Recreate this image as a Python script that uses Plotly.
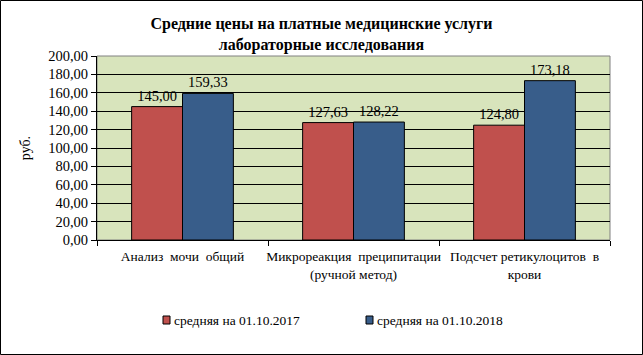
import plotly.graph_objects as go

categories = ["Анализ  мочи  общий", "Микрореакция  преципитации<br>(ручной метод)", "Подсчет ретикулоцитов  в<br>крови"]
s2017 = [145.00, 127.63, 124.80]
s2018 = [159.33, 128.22, 173.18]
names = ["средняя на 01.10.2017", "средняя на 01.10.2018"]
colors = ["#C0504D", "#385D8A"]

def fmt(v):
    return f"{v:.2f}".replace(".", ",")

W, H = 643, 355
L, R, T, B = 97, 33, 56, 115
pw, ph = W - L - R, H - T - B

font = "'Liberation Serif', 'Times New Roman', serif"

fig = go.Figure()
for vals, nm, col in zip([s2017, s2018], names, colors):
    fig.add_bar(x=categories, y=vals, name=nm, marker=dict(color=col, line=dict(color="black", width=1)),
                text=[fmt(v) for v in vals], textposition="outside", cliponaxis=False,
                textfont=dict(size=14.5, color="black", family=font), showlegend=False)

fig.update_layout(
    width=W, height=H, margin=dict(l=L, r=R, t=T, b=B, autoexpand=False),
    paper_bgcolor="white", plot_bgcolor="#D8E4BC",
    separators=", ",
    font=dict(family=font, size=13, color="black"),
    title=dict(text="<b>Средние цены на платные медицинские услуги<br>лабораторные исследования</b>",
               x=0.5, xref="container", xanchor="center", y=1 - 29 / H, yanchor="middle",
               font=dict(size=16, family=font)),
    bargap=0.405, bargroupgap=0,
    showlegend=False,
)
fig.update_yaxes(range=[0, 200], dtick=20, tickformat=".2f", showgrid=True, gridcolor="black", gridwidth=1,
                 showline=True, linecolor="black", ticks="outside", ticklen=5, tickcolor="black",
                 tickfont=dict(size=14.5, family=font),
                 title=dict(text="руб.", font=dict(size=14, family=font), standoff=14), zeroline=False)
fig.update_xaxes(showline=True, linecolor="black", ticks="outside", tickson="boundaries", ticklen=5,
                 tickcolor="black", tickangle=0, ticklabelstandoff=4, tickfont=dict(size=13.5, family=font))

fig.add_shape(type="rect", xref="paper", yref="paper", x0=0, x1=1, y0=0, y1=1,
              line=dict(color="#808080", width=1), fillcolor="rgba(0,0,0,0)", layer="below")
fig.add_shape(type="rect", xref="paper", yref="paper",
              x0=-(L - 0.5) / pw, x1=(W - L - 0.5) / pw, y0=-(B - 0.5) / ph, y1=(ph + T - 0.5) / ph,
              line=dict(color="black", width=1), fillcolor="rgba(0,0,0,0)")

# legend (drawn manually to match small square markers)
leg_y = 320
for sx, nm, col in zip([163, 366], names, colors):
    fig.add_shape(type="rect", xref="paper", yref="paper",
                  x0=(sx - L) / pw, x1=(sx + 7 - L) / pw,
                  y0=(T + ph - (leg_y + 4)) / ph, y1=(T + ph - (leg_y - 4)) / ph,
                  line=dict(color="black", width=1), fillcolor=col)
    fig.add_annotation(text=nm, xref="paper", yref="paper", x=(sx + 9 - L) / pw, xanchor="left",
                       y=(T + ph - leg_y) / ph, yanchor="middle", showarrow=False,
                       font=dict(size=13.5, family=font, color="black"))

fig.write_html("out.html")
